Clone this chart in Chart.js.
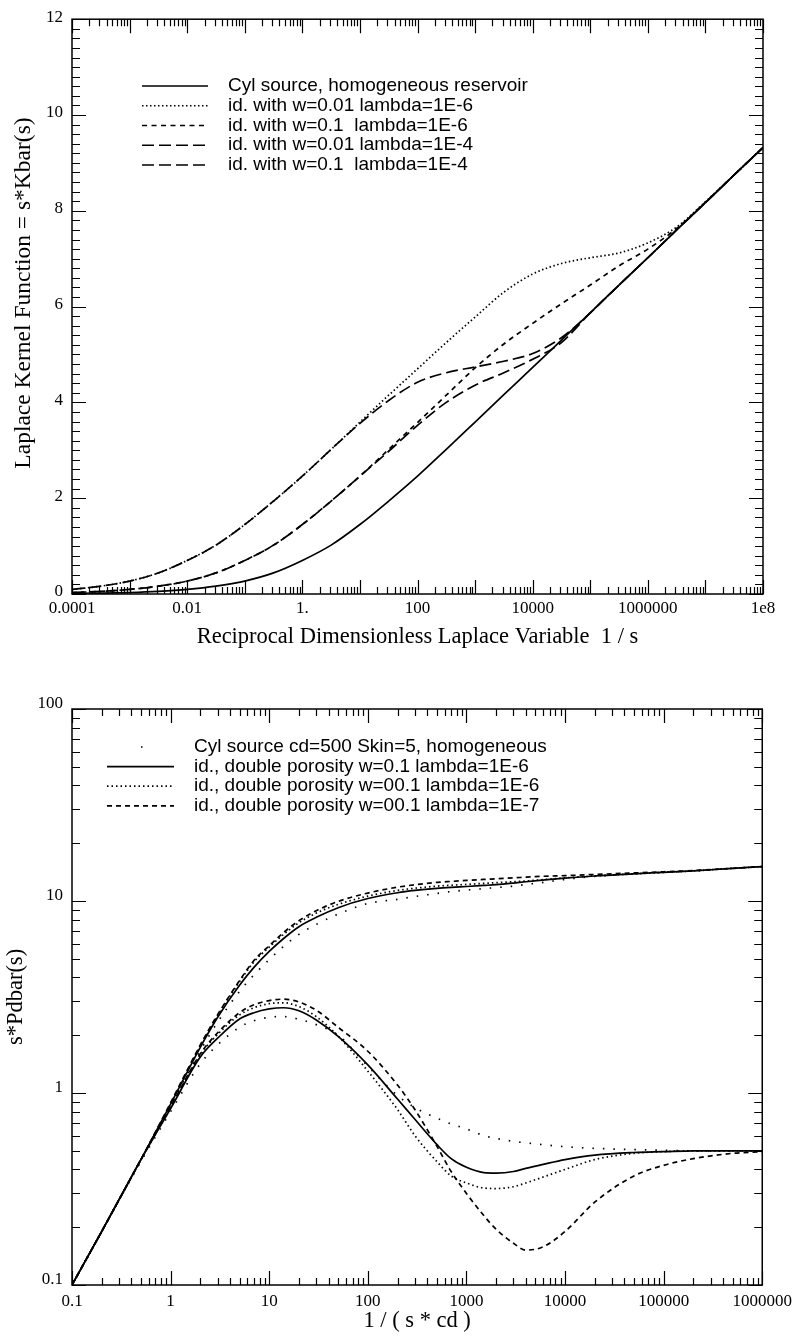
<!DOCTYPE html>
<html>
<head>
<meta charset="utf-8">
<script src="https://cdn.jsdelivr.net/npm/chart.js@4.4.1/dist/chart.umd.min.js"></script>
<style>
  body { margin: 0; background: #fff; }
  #page { position: relative; width: 798px; height: 1342px; }
  canvas { position: absolute; left: 0; }
  #kernel { top: 0; }
  #pdbar { top: 660px; }
</style>
</head>
<body>
<div id="page">
  <canvas id="kernel" width="798" height="660"></canvas>
  <canvas id="pdbar" width="798" height="682"></canvas>
</div>
<script>
// ---- kernel function vs 1/s (half decades) ----
var kernelX = [1e-4, 3.16e-4, 1e-3, 3.16e-3, 1e-2, 3.16e-2, 0.1, 0.316, 1, 3.16, 10, 31.6, 100, 316,
               1e3, 3.16e3, 1e4, 3.16e4, 1e5, 3.16e5, 1e6, 3.16e6, 1e7, 3.16e7, 1e8];
var kernelHomog = [0.01, 0.018, 0.031, 0.055, 0.095, 0.163, 0.27, 0.44, 0.70, 1.02, 1.45, 1.94, 2.46, 3.02,
                   3.59, 4.16, 4.73, 5.3, 5.87, 6.45, 7.02, 7.6, 8.17, 8.75, 9.32];
var kernelW001L6 = [0.095, 0.163, 0.27, 0.44, 0.70, 1.02, 1.45, 1.94, 2.46, 3.02, 3.59, 4.15, 4.7, 5.25,
                    5.78, 6.3, 6.68, 6.9, 7.02, 7.12, 7.33, 7.66, 8.19, 8.75, 9.32];
var kernelW01L6 = [0.031, 0.055, 0.095, 0.163, 0.27, 0.44, 0.70, 1.02, 1.45, 1.94, 2.46, 3.02, 3.58, 4.15,
                   4.72, 5.22, 5.65, 6.06, 6.45, 6.85, 7.2, 7.63, 8.18, 8.75, 9.32];
var kernelW001L4 = [0.095, 0.163, 0.27, 0.44, 0.70, 1.02, 1.45, 1.94, 2.46, 3.02, 3.56, 4.04, 4.42, 4.62,
                    4.74, 4.86, 5.02, 5.35, 5.87, 6.45, 7.02, 7.6, 8.17, 8.75, 9.32];
var kernelW01L4 = [0.031, 0.055, 0.095, 0.163, 0.27, 0.44, 0.70, 1.02, 1.45, 1.94, 2.46, 2.98, 3.52, 4.0,
                   4.36, 4.62, 4.9, 5.25, 5.87, 6.45, 7.02, 7.6, 8.17, 8.75, 9.32];
var kernelXTicks = [1e-4, 1e-2, 1, 1e2, 1e4, 1e6, 1e8];
var kernelXLabels = ['0.0001', '0.01', '1.', '100', '10000', '1000000', '1e8'];
var kernelYTicks = [0, 2, 4, 6, 8, 10, 12];
var kernelYLabels = ['0', '2', '4', '6', '8', '10', '12'];

// ---- s*Pdbar vs 1/(s*cd): pressure (P) and derivative (D) ----
var pdX = [0.1, 0.2, 0.5, 1, 2, 3, 5, 7, 10, 14, 20, 30, 50, 100, 200, 300, 500, 700, 1000, 1500, 2000,
           3000, 4000, 6000, 1e4, 2e4, 5e4, 1e5, 2e5, 5e5, 1e6];
var pdHomP = [0.1, 0.19, 0.45, 0.86, 1.66, 2.34, 3.38, 4.12, 4.95, 5.8, 6.7, 7.55, 8.55, 9.7, 10.2,
              10.55, 10.95, 11.2, 11.4, 11.6, 11.75, 11.95, 12.2, 12.5, 12.95, 13.45, 13.85, 14.1, 14.35, 14.8, 15.1];
var pdW01L6P = [0.1, 0.19, 0.45, 0.875, 1.73, 2.48, 3.64, 4.51, 5.46, 6.38, 7.35, 8.22, 9.23, 10.3, 11.04,
                11.35, 11.64, 11.78, 11.9, 12.05, 12.16, 12.4, 12.6, 12.85, 13.15, 13.5, 13.85, 14.1, 14.35, 14.8, 15.1];
var pdW001L6P = [0.1, 0.19, 0.45, 0.88, 1.76, 2.53, 3.8, 4.82, 5.75, 6.7, 7.7, 8.65, 9.6, 10.6, 11.35,
                 11.65, 11.95, 12.08, 12.2, 12.35, 12.45, 12.6, 12.72, 12.92, 13.2, 13.5, 13.85, 14.1, 14.35, 14.8, 15.1];
var pdW001L7P = [0.1, 0.19, 0.45, 0.89, 1.78, 2.56, 3.85, 4.9, 5.85, 6.85, 7.9, 8.9, 9.95, 11.0, 11.8,
                 12.15, 12.5, 12.65, 12.8, 12.95, 13.05, 13.2, 13.3, 13.45, 13.55, 13.75, 14.0, 14.2, 14.4, 14.8, 15.1];
var pdHomD = [0.1, 0.19, 0.44, 0.8, 1.42, 1.78, 2.2, 2.38, 2.48, 2.5, 2.42, 2.27, 2.0, 1.38, 0.97,
              0.84, 0.74, 0.69, 0.65, 0.6, 0.58, 0.56, 0.55, 0.538, 0.525, 0.515, 0.507, 0.503, 0.5, 0.5, 0.5];
var pdW01L6D = [0.1, 0.19, 0.45, 0.83, 1.54, 1.93, 2.43, 2.62, 2.74, 2.78, 2.68, 2.4, 1.97, 1.4, 0.93,
                0.73, 0.54, 0.455, 0.41, 0.385, 0.383, 0.39, 0.405, 0.425, 0.45, 0.475, 0.49, 0.495, 0.5, 0.5, 0.5];
var pdW001L6D = [0.1, 0.19, 0.45, 0.84, 1.58, 2.02, 2.55, 2.78, 2.92, 2.95, 2.82, 2.5, 1.98, 1.3, 0.82,
                 0.6, 0.44, 0.37, 0.34, 0.32, 0.318, 0.325, 0.34, 0.365, 0.4, 0.45, 0.485, 0.495, 0.5, 0.5, 0.5];
var pdW001L7D = [0.1, 0.19, 0.45, 0.845, 1.6, 2.06, 2.62, 2.88, 3.03, 3.08, 2.98, 2.7, 2.2, 1.65, 1.1,
                 0.82, 0.53, 0.39, 0.3, 0.23, 0.195, 0.165, 0.152, 0.158, 0.19, 0.27, 0.37, 0.42, 0.455, 0.485, 0.494];
var pdXTicks = [0.1, 1, 10, 100, 1000, 10000, 100000, 1000000];
var pdXLabels = ['0.1', '1', '10', '100', '1000', '10000', '100000', '1000000'];
var pdYTicks = [0.1, 1, 10, 100];
var pdYLabels = ['0.1', '1', '10', '100'];

Chart.defaults.font.family = '"Liberation Serif", "Times New Roman", serif';
Chart.defaults.color = '#000';

var tickFont = { size: 17 };
var titleFont = { size: 22.5 };

function pairs(xs, ys) {
  return xs.map(function (x, i) { return { x: x, y: ys[i] }; });
}

function curve(label, xs, ys, dash, keyDash) {
  return {
    label: label,
    data: pairs(xs, ys),
    borderColor: '#000',
    borderWidth: 1.7,
    borderDash: dash,
    keyDash: keyDash,
    borderCapStyle: 'butt',
    pointRadius: 0,
    fill: false,
    cubicInterpolationMode: 'monotone'
  };
}

// tick positions for the inward ticks on all four sides
function tickMarks(scale, minorStep, majorStep) {
  var out = [];
  if (scale.type === 'logarithmic') {
    var e0 = Math.round(Math.log10(scale.min)), e1 = Math.round(Math.log10(scale.max));
    for (var e = e0; e <= e1; e++) {
      for (var k = 1; k <= 9; k++) {
        if (e === e1 && k > 1) break;
        out.push({ v: k * Math.pow(10, e), major: k === 1 });
      }
    }
  } else {
    var n = Math.round((scale.max - scale.min) / minorStep);
    for (var i = 0; i <= n; i++) {
      var v = scale.min + i * minorStep;
      var r = v / majorStep;
      out.push({ v: v, major: Math.abs(r - Math.round(r)) < 1e-6 });
    }
  }
  return out;
}

var frameTicks = {
  id: 'frameTicks',
  afterDraw: function (chart, args, opts) {
    var ctx = chart.ctx, a = chart.chartArea;
    var xs = chart.scales.x, ys = chart.scales.y;
    ctx.save();
    ctx.strokeStyle = '#000';
    ctx.lineWidth = 1.2;
    ctx.beginPath();
    tickMarks(xs).forEach(function (m) {
      var px = Math.round(xs.getPixelForValue(m.v)) + 0.5;
      var len = m.major ? 14 : 7;
      ctx.moveTo(px, a.bottom); ctx.lineTo(px, a.bottom - len);
      ctx.moveTo(px, a.top); ctx.lineTo(px, a.top + len);
    });
    tickMarks(ys, opts.minorStep, opts.majorStep).forEach(function (m) {
      var py = Math.round(ys.getPixelForValue(m.v)) + 0.5;
      var len = m.major ? 14 : 8;
      ctx.moveTo(a.left, py); ctx.lineTo(a.left + len, py);
      ctx.moveTo(a.right, py); ctx.lineTo(a.right - len, py);
    });
    ctx.stroke();
    ctx.lineWidth = 1.5;
    ctx.strokeRect(a.left, a.top, a.right - a.left, a.bottom - a.top);
    ctx.restore();
  }
};

// legend drawn inside the plot: line sample + label per labelled dataset
var lineKey = {
  id: 'lineKey',
  afterDatasetsDraw: function (chart, args, opts) {
    var ctx = chart.ctx;
    var row = 0;
    ctx.save();
    ctx.font = opts.font;
    ctx.fillStyle = '#000';
    ctx.textBaseline = 'middle';
    chart.data.datasets.forEach(function (ds) {
      if (!ds.label) return;
      var y = opts.top + row * opts.rowGap;
      ctx.strokeStyle = '#000';
      ctx.lineWidth = ds.borderWidth;
      ctx.setLineDash(ds.keyDash || ds.borderDash || []);
      ctx.beginPath();
      ctx.moveTo(opts.x0, y);
      ctx.lineTo(opts.x1, y);
      ctx.stroke();
      ctx.setLineDash([]);
      ctx.fillText(ds.label, opts.textX, y);
      row++;
    });
    ctx.restore();
  }
};

var yTitle = {
  id: 'yTitle',
  afterDraw: function (chart, args, opts) {
    var ctx = chart.ctx;
    ctx.save();
    ctx.translate(opts.x, opts.y);
    ctx.rotate(-Math.PI / 2);
    ctx.font = opts.size + 'px "Liberation Serif"';
    ctx.fillStyle = '#000';
    ctx.textAlign = 'center';
    ctx.textBaseline = 'middle';
    ctx.fillText(opts.text, 0, 0);
    ctx.restore();
  }
};

function fixedTicks(vals) {
  return function (s) { s.ticks = vals.map(function (v) { return { value: v }; }); };
}

// ---------- top: Laplace kernel ----------
new Chart(document.getElementById('kernel'), {
  type: 'line',
  data: {
    datasets: [
      curve('Cyl source, homogeneous reservoir', kernelX, kernelHomog, []),
      curve('id. with w=0.01 lambda=1E-6', kernelX, kernelW001L6, [1.5, 2.5]),
      curve('id. with w=0.1  lambda=1E-6', kernelX, kernelW01L6, [5, 4.5]),
      curve('id. with w=0.01 lambda=1E-4', kernelX, kernelW001L4, [12, 5]),
      curve('id. with w=0.1  lambda=1E-4', kernelX, kernelW01L4, [12, 5])
    ]
  },
  options: {
    responsive: false,
    animation: false,
    events: [],
    layout: { padding: { top: 18, right: 35, left: 0, bottom: 0 } },
    plugins: {
      legend: { display: false },
      tooltip: { enabled: false },
      frameTicks: { minorStep: 0.2, majorStep: 2 },
      lineKey: { font: '19px "Liberation Sans"', top: 86, rowGap: 19.75, x0: 142, x1: 208, textX: 228 },
      yTitle: { text: 'Laplace Kernel Function = s*Kbar(s)', x: 24, y: 293, size: 23.5 }
    },
    scales: {
      x: {
        type: 'logarithmic',
        min: 1e-4,
        max: 1e8,
        grid: { display: false, drawTicks: false },
        border: { display: false },
        afterBuildTicks: fixedTicks(kernelXTicks),
        afterFit: function (s) { s.height = 66; },
        ticks: {
          autoSkip: false, maxRotation: 0, padding: 4, font: tickFont,
          callback: function (v, i) { return kernelXLabels[i]; }
        },
        title: {
          display: true, text: 'Reciprocal Dimensionless Laplace Variable  1 / s',
          font: titleFont, padding: { top: 0, bottom: 9 }
        }
      },
      y: {
        type: 'linear',
        min: 0,
        max: 12,
        grid: { display: false, drawTicks: false },
        border: { display: false },
        afterBuildTicks: fixedTicks(kernelYTicks),
        afterFit: function (s) { s.width = 72; },
        ticks: {
          autoSkip: false, padding: 9, labelOffset: -2, font: tickFont,
          callback: function (v, i) { return kernelYLabels[i]; }
        }
      }
    }
  },
  plugins: [frameTicks, lineKey, yTitle]
});

// ---------- bottom: s*Pdbar(s) ----------
new Chart(document.getElementById('pdbar'), {
  type: 'line',
  data: {
    datasets: [
      curve('Cyl source cd=500 Skin=5, homogeneous', pdX, pdHomP, [1.5, 9], [0, 34, 1.5, 200]),
      curve('id., double porosity w=0.1 lambda=1E-6', pdX, pdW01L6P, []),
      curve('id., double porosity w=00.1 lambda=1E-6', pdX, pdW001L6P, [1.5, 3]),
      curve('id., double porosity w=00.1 lambda=1E-7', pdX, pdW001L7P, [5, 4]),
      curve('', pdX, pdHomD, [1.5, 9]),
      curve('', pdX, pdW01L6D, []),
      curve('', pdX, pdW001L6D, [1.5, 3]),
      curve('', pdX, pdW001L7D, [5, 4])
    ]
  },
  options: {
    responsive: false,
    animation: false,
    events: [],
    layout: { padding: { top: 49, right: 35, left: 0, bottom: 0 } },
    plugins: {
      legend: { display: false },
      tooltip: { enabled: false },
      frameTicks: {},
      lineKey: { font: '19px "Liberation Sans"', top: 87, rowGap: 19.6, x0: 107, x1: 174, textX: 194 },
      yTitle: { text: 's*Pdbar(s)', x: 16, y: 337, size: 22.5 }
    },
    scales: {
      x: {
        type: 'logarithmic',
        min: 0.1,
        max: 1e6,
        grid: { display: false, drawTicks: false },
        border: { display: false },
        afterBuildTicks: fixedTicks(pdXTicks),
        afterFit: function (s) { s.height = 57; },
        ticks: {
          autoSkip: false, maxRotation: 0, padding: 6, font: tickFont,
          callback: function (v, i) { return pdXLabels[i]; }
        },
        title: {
          display: true, text: '1 / ( s * cd )',
          font: titleFont, padding: { top: 0, bottom: 7 }
        }
      },
      y: {
        type: 'logarithmic',
        min: 0.1,
        max: 100,
        grid: { display: false, drawTicks: false },
        border: { display: false },
        afterBuildTicks: fixedTicks(pdYTicks),
        afterFit: function (s) { s.width = 72; },
        ticks: {
          autoSkip: false, padding: 9, labelOffset: -5, font: tickFont,
          callback: function (v, i) { return pdYLabels[i]; }
        }
      }
    }
  },
  plugins: [frameTicks, lineKey, yTitle]
});
</script>
</body>
</html>
